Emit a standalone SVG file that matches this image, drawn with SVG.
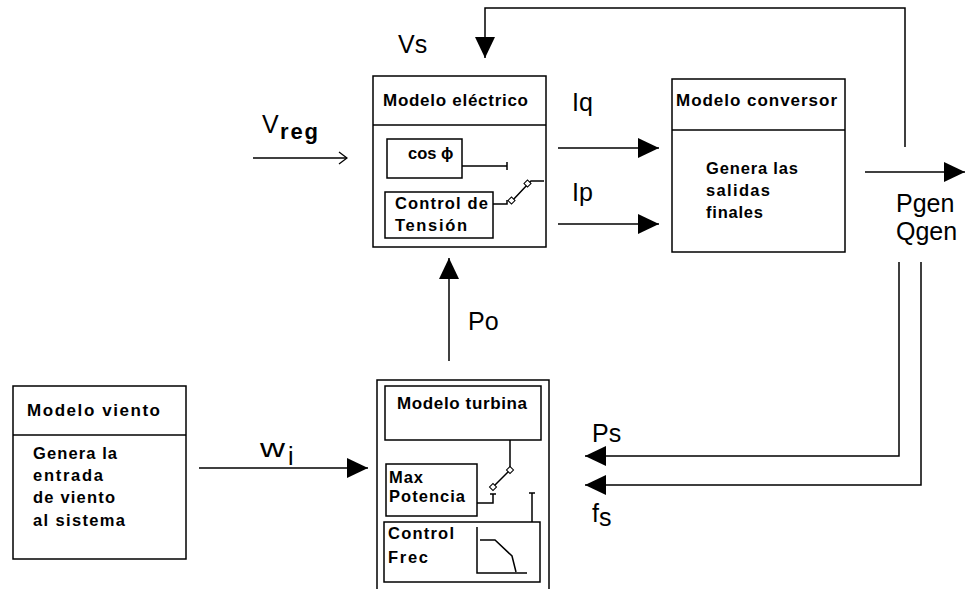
<svg xmlns="http://www.w3.org/2000/svg" width="965" height="589" viewBox="0 0 965 589">
<style>
.bx{fill:none;stroke:#000;stroke-width:1.5}
.ln{fill:none;stroke:#000;stroke-width:1.5}
.t{font-family:"Liberation Sans",Arial,sans-serif;font-weight:bold;font-size:16.5px;fill:#000}
.tt{font-family:"Liberation Sans",Arial,sans-serif;font-weight:bold;font-size:17px;fill:#000}
.lb{font-family:"Liberation Sans",Arial,sans-serif;font-size:25px;fill:#000}
.sw{fill:#fff;stroke:#000;stroke-width:1}
</style>
<defs>
<marker id="ah" markerWidth="21" markerHeight="20" refX="21" refY="10" orient="auto" markerUnits="userSpaceOnUse"><path d="M0,0 L21,10 L0,20 Z" fill="#000"/></marker>
<marker id="oa" markerWidth="10" markerHeight="14" refX="9" refY="7" orient="auto" markerUnits="userSpaceOnUse"><path d="M1,1 L9,7 L1,13" fill="none" stroke="#000" stroke-width="1.3"/></marker>
</defs>
<rect width="965" height="589" fill="#fff"/>

<g id="modelo-electrico">
<rect class="bx" x="373" y="76" width="173" height="171"/>
<line class="ln" x1="373" y1="125" x2="546" y2="125"/>
<text class="tt" x="383" y="106" textLength="145" lengthAdjust="spacing">Modelo eléctrico</text>
<g id="cos-phi">
<rect class="bx" x="387" y="139" width="75" height="39"/>
<text class="t" x="408" y="159">cos ϕ</text>
<path class="ln" d="M462,166 H507 M507,162 V170"/>
</g>
<g id="control-tension">
<rect class="bx" x="385" y="192" width="108" height="46"/>
<text class="t" x="395" y="209" textLength="93" lengthAdjust="spacing">Control de</text>
<text class="t" x="395" y="231" textLength="72" lengthAdjust="spacing">Tensión</text>
<path class="ln" d="M493,204 H507 V200"/>
<path class="ln" d="M512,201 L528,184 L531,181 H544"/>
<rect class="sw" x="509" y="198" width="5" height="5" transform="rotate(45 511.5 200.5)"/>
<rect class="sw" x="525" y="181" width="5" height="5" transform="rotate(45 527.5 183.5)"/>
</g>
</g>

<g id="modelo-conversor">
<rect class="bx" x="672" y="79" width="173" height="173"/>
<line class="ln" x1="672" y1="130" x2="845" y2="130"/>
<text class="tt" x="676" y="106" textLength="161" lengthAdjust="spacing">Modelo conversor</text>
<text class="t" x="706" y="174" textLength="92" lengthAdjust="spacing">Genera las</text>
<text class="t" x="706" y="196" textLength="64" lengthAdjust="spacing">salidas</text>
<text class="t" x="706" y="218" textLength="57" lengthAdjust="spacing">finales</text>
</g>

<g id="modelo-viento">
<rect class="bx" x="13" y="386" width="173" height="173"/>
<line class="ln" x1="13" y1="435" x2="186" y2="435"/>
<text class="tt" x="27" y="416" textLength="133" lengthAdjust="spacing">Modelo viento</text>
<text class="t" x="33" y="459" textLength="84" lengthAdjust="spacing">Genera la</text>
<text class="t" x="33" y="481" textLength="70" lengthAdjust="spacing">entrada</text>
<text class="t" x="33" y="503" textLength="82" lengthAdjust="spacing">de viento</text>
<text class="t" x="33" y="526" textLength="92" lengthAdjust="spacing">al sistema</text>
</g>

<g id="modelo-turbina-grupo">
<path class="bx" d="M377,592 V380 H549 V592"/>
<g id="modelo-turbina">
<rect class="bx" x="385" y="386" width="156" height="54"/>
<text class="tt" x="397" y="409" textLength="130" lengthAdjust="spacing">Modelo turbina</text>
</g>
<g id="max-potencia">
<rect class="bx" x="386" y="464" width="91" height="52"/>
<text class="t" x="389" y="483" textLength="34" lengthAdjust="spacing">Max</text>
<text class="t" x="389" y="502" textLength="76" lengthAdjust="spacing">Potencia</text>
<path class="ln" d="M477,503 H493 V494 M490,494 H496"/>
<path class="ln" d="M510,440 V470 L493,487"/>
<rect class="sw" x="507.5" y="467.5" width="5" height="5" transform="rotate(45 510 470)"/>
<rect class="sw" x="490.5" y="484.5" width="5" height="5" transform="rotate(45 493 487)"/>
<path class="ln" d="M532,522 V493 M529,493 H535"/>
</g>
<g id="control-frec">
<rect class="bx" x="384" y="522" width="156" height="60"/>
<text class="t" x="388" y="539" textLength="66" lengthAdjust="spacing">Control</text>
<text class="t" x="388" y="563" textLength="40" lengthAdjust="spacing">Frec</text>
<path class="ln" d="M477,527 V573 H527"/>
<path class="ln" d="M480,540 H495 L512,556 L516,572"/>
</g>
</g>

<g id="connectors">
<path class="ln" d="M905,147 V8 H485 V58" marker-end="url(#ah)"/>
<path class="ln" d="M253,158 H347" marker-end="url(#oa)"/>
<path class="ln" d="M558,148 H659" marker-end="url(#ah)"/>
<path class="ln" d="M558,224 H659" marker-end="url(#ah)"/>
<path class="ln" d="M865,172 H965" marker-end="url(#ah)"/>
<path class="ln" d="M449,361 V258" marker-end="url(#ah)"/>
<path class="ln" d="M199,468 H368" marker-end="url(#ah)"/>
<path class="ln" d="M899,262 V456 H585" marker-end="url(#ah)"/>
<path class="ln" d="M921,262 V485 H585" marker-end="url(#ah)"/>
</g>

<g id="labels">
<text class="lb" x="398" y="53">Vs</text>
<text class="lb" x="262" y="133">V<tspan x="280" y="139" font-weight="bold" font-size="22" textLength="38" lengthAdjust="spacing">reg</tspan></text>
<text class="lb" x="572" y="111">Iq</text>
<text class="lb" x="572" y="201">Ip</text>
<text class="lb" x="896" y="212">Pgen</text>
<text class="lb" x="896" y="240">Qgen</text>
<text class="lb" x="468" y="330">Po</text>
<text class="lb" x="260" y="457" font-size="27" textLength="25" lengthAdjust="spacingAndGlyphs">w</text>
<text class="lb" x="288" y="465">i</text>
<text class="lb" x="592" y="442">Ps</text>
<text class="lb" x="592" y="522">f<tspan dy="4">s</tspan></text>
</g>
</svg>
